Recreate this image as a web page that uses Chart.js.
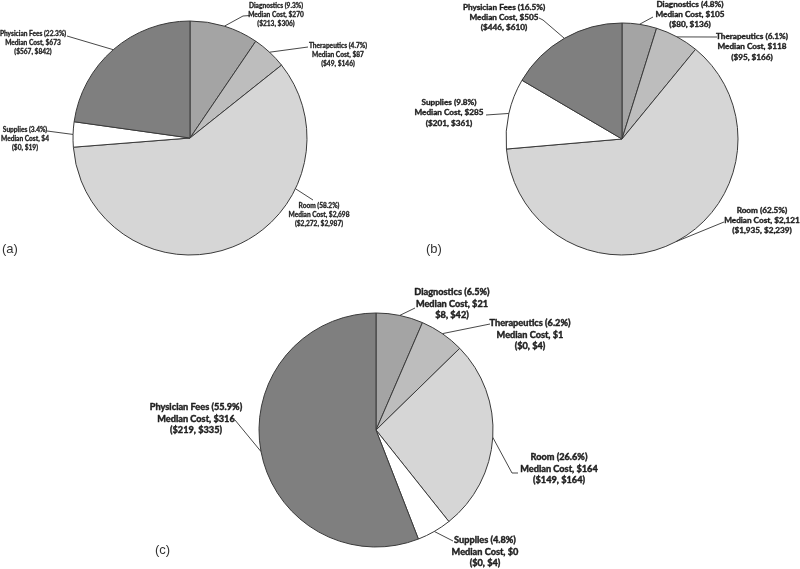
<!DOCTYPE html>
<html><head><meta charset="utf-8">
<script src="https://cdn.jsdelivr.net/npm/chart.js@4"></script>
<style>
html,body{margin:0;padding:0;background:#fff;}
#wrap{position:relative;width:800px;height:569px;overflow:hidden;background:#fff;}
#wrap canvas{position:absolute;left:0;top:0;}
</style></head><body>
<div id="wrap">
<canvas id="ca" width="800" height="569"></canvas>
<canvas id="cb" width="800" height="569"></canvas>
<canvas id="cc" width="800" height="569"></canvas>
</div>
<script>
// ---------- data ----------
const categories = ["Diagnostics", "Therapeutics", "Room", "Supplies", "Physician Fees"];
const panelTags = ["(a)", "(b)", "(c)"];

const pctA = [9.3, 4.7, 58.2, 3.4, 22.3];
const medianA = ["$270", "$87", "$2,698", "$4", "$673"];
const ciA = ["($213, $306)", "($49, $146)", "($2,272, $2,987)", "($0, $19)", "($567, $842)"];

const pctB = [4.8, 6.1, 62.5, 9.8, 16.5];
const medianB = ["$105", "$118", "$2,121", "$285", "$505"];
const ciB = ["($80, $136)", "($95, $166)", "($1,935, $2,239)", "($201, $361)", "($446, $610)"];

const pctC = [6.5, 6.2, 26.6, 4.8, 55.9];
const medianC = ["$21", "$1", "$164", "$0", "$316"];
const ciC = ["$8, $42)", "($0, $4)", "($149, $164)", "($0, $4)", "($219, $335)"];

// ---------- styles / layout ----------
const sliceColors = ["#a4a4a4", "#bdbdbd", "#d6d6d6", "#ffffff", "#7f7f7f"];

const layoutA = {
  r: 117, pad: {left: 0, top: 0, right: 420, bottom: 293},
  font: 6.6, lh: 8.8, stroke: 0.3, tag: [2, 253],
  labels: [
    {x: 276, y: 6, pts: [[243, 16], [250, 15.5]]},
    {x: 338, y: 46, pts: [[308, 47]]},
    {x: 319, y: 206, pts: [[313, 200]], t: 0.3},
    {x: 25, y: 130, pts: [[47, 131]]},
    {x: 33, y: 34, pts: [[67, 36]]}
  ]
};
const layoutB = {
  r: 116, pad: {left: 444, top: 0, right: 0, bottom: 291},
  font: 8.2, lh: 10.2, stroke: 0.4, tag: [426, 253],
  labels: [
    {x: 690, y: 4, pts: [[653, 17]]},
    {x: 752, y: 36.5, pts: [[717, 37]]},
    {x: 762, y: 210, pts: [[724, 222]]},
    {x: 449, y: 102.5, pts: [[486, 115]]},
    {x: 504, y: 7, pts: [[543, 20], [539, 18]]}
  ]
};
const layoutC = {
  r: 117, pad: {left: 0, top: 291, right: 48, bottom: 0},
  font: 9.2, lh: 11.6, stroke: 0.45, tag: [155, 554],
  labels: [
    {x: 452, y: 292, pts: [[415, 308]]},
    {x: 530, y: 323, pts: [[490, 324]]},
    {x: 559, y: 457, pts: [[512, 473], [518, 473]]},
    {x: 485, y: 540, pts: [[453, 541]]},
    {x: 196, y: 407, pts: [[235, 420]]}
  ]
};

const labelPlugin = {
  id: 'sliceLabels',
  afterDatasetsDraw(chart, args, opts) {
    const ctx = chart.ctx;
    const L = opts.layout;
    const meta = chart.getDatasetMeta(0);
    ctx.save();
    meta.data.forEach((arc, i) => {
      const p = arc.getProps(['x', 'y', 'startAngle', 'endAngle', 'outerRadius'], true);
      const lab = L.labels[i];
      const t = lab.t !== undefined ? lab.t : 0.5;
      const a = p.startAngle + t * (p.endAngle - p.startAngle);
      const sx = p.x + p.outerRadius * Math.cos(a);
      const sy = p.y + p.outerRadius * Math.sin(a);
      ctx.strokeStyle = '#333';
      ctx.lineWidth = 0.9;
      ctx.beginPath();
      ctx.moveTo(sx, sy);
      lab.pts.forEach(q => ctx.lineTo(q[0], q[1]));
      ctx.stroke();
      ctx.font = 'bold ' + L.font + 'px Lato';
      ctx.fillStyle = '#1f1f1f';
      ctx.strokeStyle = '#1f1f1f';
      ctx.lineWidth = L.stroke;
      ctx.lineJoin = 'round';
      ctx.textAlign = 'center';
      ctx.textBaseline = 'middle';
      opts.lines[i].forEach((s, k) => {
        ctx.fillText(s, lab.x, lab.y + k * L.lh);
        ctx.strokeText(s, lab.x, lab.y + k * L.lh);
      });
    });
    ctx.font = '13px "Liberation Sans", Arial, sans-serif';
    ctx.textAlign = 'left';
    ctx.textBaseline = 'alphabetic';
    ctx.fillStyle = '#333';
    ctx.fillText(opts.tag, L.tag[0], L.tag[1]);
    ctx.restore();
  }
};

function buildLines(pct, median, ci) {
  return categories.map((c, i) => [
    c + ' (' + pct[i].toFixed(1) + '%)',
    'Median Cost, ' + median[i],
    ci[i]
  ]);
}

function makeChart(id, pct, median, ci, layout, tag) {
  return new Chart(document.getElementById(id), {
    type: 'pie',
    data: {
      labels: categories,
      datasets: [{
        data: pct,
        backgroundColor: sliceColors,
        borderColor: '#3a3a3a',
        borderWidth: 1,
        radius: layout.r
      }]
    },
    options: {
      responsive: false,
      animation: false,
      events: [],
      layout: {padding: layout.pad},
      plugins: {
        legend: {display: false},
        tooltip: {enabled: false},
        sliceLabels: {layout: layout, lines: buildLines(pct, median, ci), tag: tag}
      }
    },
    plugins: [labelPlugin]
  });
}

makeChart('ca', pctA, medianA, ciA, layoutA, panelTags[0]);
makeChart('cb', pctB, medianB, ciB, layoutB, panelTags[1]);
makeChart('cc', pctC, medianC, ciC, layoutC, panelTags[2]);
</script>
</body></html>
